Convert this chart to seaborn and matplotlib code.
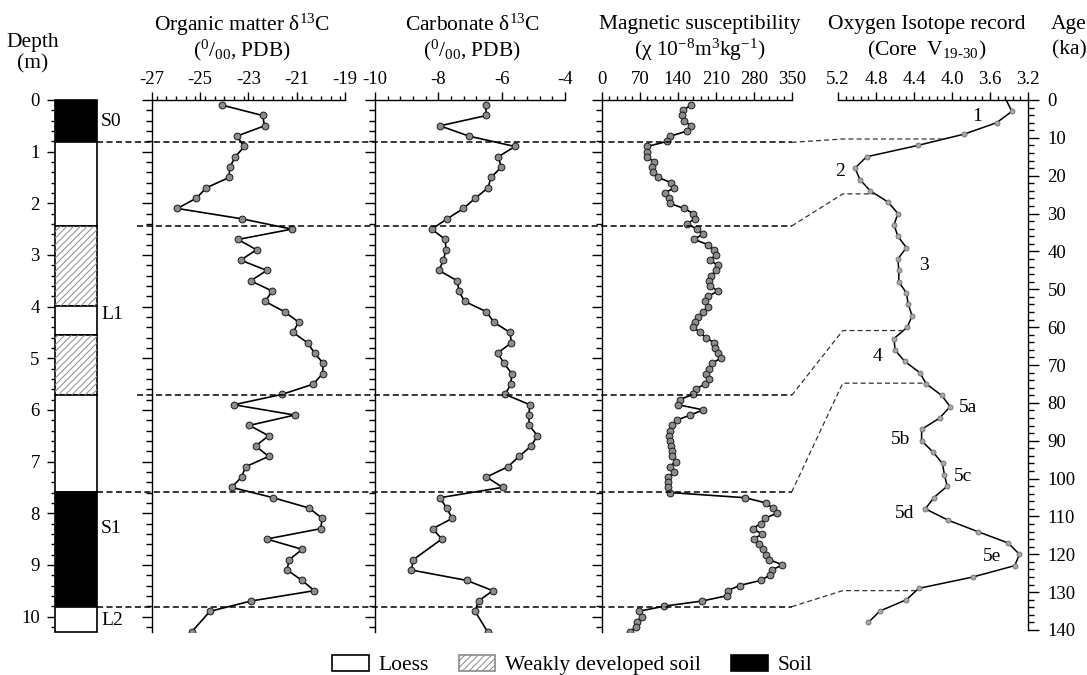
import numpy as np
import matplotlib
matplotlib.use("Agg")
import matplotlib.pyplot as plt
import seaborn as sns
from matplotlib.lines import Line2D
from matplotlib.patches import Patch
from matplotlib.ticker import MultipleLocator
from matplotlib.transforms import blended_transform_factory

# ---------------- data ----------------
om_depth = [0.1, 0.3, 0.5, 0.7, 0.9, 1.1, 1.3, 1.5, 1.7, 1.9, 2.1, 2.3, 2.5, 2.7, 2.9, 3.1, 3.3,
            3.5, 3.7, 3.9, 4.1, 4.3, 4.5, 4.7, 4.9, 5.1, 5.3, 5.5, 5.7, 5.9, 6.1, 6.3, 6.5, 6.7,
            6.9, 7.1, 7.3, 7.5, 7.7, 7.9, 8.1, 8.3, 8.5, 8.7, 8.9, 9.1, 9.3, 9.5, 9.7, 9.9, 10.3]
om_d13c = [-24.08, -22.41, -22.33, -23.48, -23.17, -23.54, -23.77, -23.80, -24.74, -25.15,
           -25.94, -23.28, -21.20, -23.43, -22.66, -23.32, -22.24, -22.90, -22.01, -22.31,
           -21.50, -20.92, -21.15, -20.55, -20.26, -19.90, -19.93, -20.31, -21.61, -23.60,
           -21.08, -22.96, -22.16, -22.70, -22.16, -23.11, -23.28, -23.69, -21.97, -20.49,
           -19.94, -20.01, -22.24, -20.77, -21.31, -21.40, -20.78, -20.27, -22.89, -24.59, -25.35]

carb_depth = [0.1, 0.3, 0.5, 0.7, 0.9, 1.1, 1.3, 1.5, 1.7, 1.9, 2.1, 2.3, 2.5, 2.7, 2.9, 3.1, 3.3,
              3.5, 3.7, 3.9, 4.1, 4.3, 4.5, 4.7, 4.9, 5.1, 5.3, 5.5, 5.7, 5.9, 6.1, 6.3, 6.5, 6.7,
              6.9, 7.1, 7.3, 7.5, 7.7, 7.9, 8.1, 8.3, 8.5, 8.9, 9.1, 9.3, 9.5, 9.7, 9.9, 10.3]
carb_d13c = [-6.51, -6.48, -7.95, -7.03, -5.58, -6.11, -6.01, -6.34, -6.43, -6.83, -7.21, -7.72,
             -8.21, -7.78, -7.76, -7.84, -7.98, -7.40, -7.35, -7.17, -6.48, -6.25, -5.74, -5.69,
             -6.13, -5.92, -5.68, -5.71, -5.89, -5.11, -5.14, -5.13, -4.87, -5.07, -5.45, -5.80,
             -6.48, -5.97, -7.95, -7.74, -7.56, -8.18, -7.89, -8.79, -8.85, -7.11, -6.28, -6.73,
             -6.84, -6.44]

ms_depth = [0.1, 0.2, 0.3, 0.4, 0.5, 0.6, 0.7, 0.8, 0.9, 1.0, 1.1, 1.2, 1.3, 1.4, 1.5, 1.6, 1.7,
            1.8, 1.9, 2.0, 2.1, 2.2, 2.3, 2.4, 2.5, 2.6, 2.7, 2.8, 2.9, 3.0, 3.1, 3.2, 3.3, 3.4,
            3.5, 3.6, 3.7, 3.8, 3.9, 4.0, 4.1, 4.2, 4.3, 4.4, 4.5, 4.6, 4.7, 4.8, 4.9, 5.0, 5.1,
            5.2, 5.3, 5.4, 5.5, 5.6, 5.7, 5.8, 5.9, 6.0, 6.1, 6.2, 6.3, 6.4, 6.5, 6.6, 6.7, 6.8,
            6.9, 7.0, 7.1, 7.2, 7.3, 7.4, 7.5, 7.6, 7.7, 7.8, 7.9, 8.0, 8.1, 8.2, 8.3, 8.4, 8.5,
            8.6, 8.7, 8.8, 8.9, 9.0, 9.1, 9.2, 9.3, 9.4, 9.5, 9.6, 9.7, 9.8, 9.9, 10.0, 10.1,
            10.2, 10.3]
ms_chi = [164, 150, 147, 152, 164, 158, 126, 121, 84, 83,
          83, 97, 92, 94, 104, 128, 133, 117, 124, 125,
          152, 169, 171, 157, 176, 186, 170, 196, 206, 210,
          199, 214, 211, 201, 198, 200, 214, 196, 190, 196,
          187, 178, 172, 169, 181, 192, 207, 209, 214, 219,
          203, 198, 192, 198, 190, 173, 168, 144, 141, 187,
          163, 138, 130, 126, 124, 126, 127, 129, 129, 136,
          125, 134, 123, 122, 123, 126, 264, 302, 315, 322,
          301, 293, 278, 295, 281, 289, 298, 303, 309, 333,
          313, 310, 293, 254, 232, 230, 185, 115, 68, 74,
          65, 63, 52]

o18_age = [0, 3, 6, 9, 12, 15, 18, 21, 24, 27, 30, 33, 36, 39, 42, 45, 48, 51, 54, 57, 60, 63,
           66, 69, 72, 75, 78, 81, 84, 87, 90, 93, 96, 99, 102, 105, 108, 111, 114, 117, 120,
           123, 126, 129, 132, 135, 138]
o18_val = [3.43, 3.37, 3.53, 3.87, 4.36, 4.90, 5.02, 4.97, 4.86, 4.67, 4.57, 4.61, 4.57, 4.48,
           4.57, 4.56, 4.56, 4.48, 4.46, 4.42, 4.47, 4.61, 4.60, 4.50, 4.34, 4.27, 4.11, 4.02,
           4.13, 4.32, 4.32, 4.20, 4.10, 4.08, 4.05, 4.19, 4.28, 4.04, 3.73, 3.41, 3.29, 3.34,
           3.78, 4.35, 4.48, 4.76, 4.88]

stage_labels = ['1', '2', '3', '4', '5a', '5b', '5c', '5d', '5e']
stage_val = [3.74, 5.18, 4.30, 4.78, 3.83, 4.54, 3.88, 4.50, 3.58]
stage_age = [4.4, 19.0, 43.6, 67.8, 81.2, 89.8, 99.5, 109.1, 120.7]

layer_top = [0.0, 0.82, 2.44, 3.98, 4.55, 5.72, 7.59, 9.81]
layer_bot = [0.82, 2.44, 3.98, 4.55, 5.72, 7.59, 9.81, 10.3]
layer_type = ['Soil', 'Loess', 'Weakly developed soil', 'Loess', 'Weakly developed soil',
              'Loess', 'Soil', 'Loess']
unit_names = ['S0', 'L1', 'S1', 'L2']
unit_depth = [0.42, 4.15, 8.3, 10.07]

bound_depth = [0.82, 2.44, 5.72, 7.59, 9.81]
bound_from_column = [True, False, False, True, True]
bound_age = [10.3, 24.8, 60.9, 74.8, 129.6]

legend_labels = ['Loess', 'Weakly developed soil', 'Soil']

om_ticks = [-27, -25, -23, -21, -19]
carb_ticks = [-10, -8, -6, -4]
ms_ticks = [0, 70, 140, 210, 280, 350]
o18_ticks = [5.2, 4.8, 4.4, 4.0, 3.6, 3.2]
depth_ticks = [0, 1, 2, 3, 4, 5, 6, 7, 8, 9, 10]
age_ticks = [0, 10, 20, 30, 40, 50, 60, 70, 80, 90, 100, 110, 120, 130, 140]

# ---------------- style ----------------
sns.set_style("ticks")
plt.rcParams.update({
    'font.family': ['Liberation Serif', 'DejaVu Serif'],
    'mathtext.fontset': 'custom',
    'mathtext.rm': 'Liberation Serif',
    'mathtext.it': 'Liberation Serif:italic',
    'mathtext.bf': 'Liberation Serif:bold',
    'axes.unicode_minus': False,
    'hatch.linewidth': 0.7,
    'axes.linewidth': 1.0,
    'axes.edgecolor': 'black',
    'xtick.color': 'black',
    'ytick.color': 'black',
    'text.color': 'black',
})

W, H = 1087, 675
fig = plt.figure(figsize=(W / 100, H / 100), dpi=100)


def box(x0, y0, x1, y1):
    return [x0 / W, 1 - y1 / H, (x1 - x0) / W, (y1 - y0) / H]


TOP, BOT, AGE_BOT = 100, 632, 630
ax_col = fig.add_axes(box(55, TOP, 97, BOT))
ax1 = fig.add_axes(box(151.7, TOP, 345, BOT))
ax2 = fig.add_axes(box(375, TOP, 565, BOT))
ax3 = fig.add_axes(box(601.7, TOP, 791.7, BOT))
ax4 = fig.add_axes(box(838, TOP, 1028, AGE_BOT))

TICK_FS = 13.5
TITLE_FS = 15.5
LINE_KW = dict(color='black', linewidth=1.2, estimator=None)
MK_KW = dict(s=24, color='#8c8c8c', edgecolor='#1a1a1a', linewidth=0.7, zorder=3)


def style_panel(ax, xlim, ticks, minor):
    ax.set_xlim(*xlim)
    ax.set_ylim(10.3, 0)
    for s in ['right', 'bottom']:
        ax.spines[s].set_visible(False)
    ax.xaxis.set_ticks_position('top')
    ax.set_xticks(ticks)
    ax.set_xticklabels([f'{t:g}' for t in ticks])
    ax.xaxis.set_minor_locator(MultipleLocator(minor))
    ax.yaxis.set_major_locator(MultipleLocator(1))
    ax.yaxis.set_minor_locator(MultipleLocator(0.2))
    ax.tick_params(axis='x', which='major', length=5.5, width=1, pad=3,
                   labelsize=TICK_FS, direction='out', top=True, bottom=False)
    ax.tick_params(axis='x', which='minor', length=3, width=1, direction='out',
                   top=True, bottom=False)
    ax.tick_params(axis='y', which='major', length=7, width=1, labelleft=False,
                   direction='out', left=True)
    ax.tick_params(axis='y', which='minor', length=4.5, width=1, direction='out', left=True)
    ax.set_xlabel('')
    ax.set_ylabel('')
    ax.patch.set_alpha(0)


# panel 1: organic matter
sns.lineplot(x=om_d13c, y=om_depth, orient='y', ax=ax1, **LINE_KW)
sns.scatterplot(x=om_d13c, y=om_depth, ax=ax1, **MK_KW)
style_panel(ax1, (-27, -19), om_ticks, 0.4)

# panel 2: carbonate
sns.lineplot(x=carb_d13c, y=carb_depth, orient='y', ax=ax2, **LINE_KW)
sns.scatterplot(x=carb_d13c, y=carb_depth, ax=ax2, **MK_KW)
style_panel(ax2, (-10, -4), carb_ticks, 0.4)

# panel 3: magnetic susceptibility
sns.lineplot(x=ms_chi, y=ms_depth, orient='y', ax=ax3, **LINE_KW)
sns.scatterplot(x=ms_chi, y=ms_depth, ax=ax3, **MK_KW)
style_panel(ax3, (0, 350), ms_ticks, 14)

# panel 4: oxygen isotope vs age
sns.lineplot(x=o18_val, y=o18_age, orient='y', ax=ax4, color='black', linewidth=1.1,
             estimator=None)
sns.scatterplot(x=o18_val[1:], y=o18_age[1:], ax=ax4, s=13, color='#a8a8a8',
                edgecolor='#6e6e6e', linewidth=0.6, zorder=3)
ax4.set_xlim(5.2, 3.2)
ax4.set_ylim(140, 0)
for s in ['left', 'bottom']:
    ax4.spines[s].set_visible(False)
ax4.xaxis.set_ticks_position('top')
ax4.set_xticks(o18_ticks)
ax4.set_xticklabels([f'{t:.1f}' for t in o18_ticks])
ax4.xaxis.set_minor_locator(MultipleLocator(0.08))
ax4.yaxis.tick_right()
ax4.set_yticks(age_ticks)
ax4.set_yticklabels([str(a) for a in age_ticks])
ax4.yaxis.set_minor_locator(MultipleLocator(2))
ax4.tick_params(axis='x', which='major', length=5.5, width=1, pad=3, labelsize=TICK_FS,
                direction='out', top=True, bottom=False)
ax4.tick_params(axis='x', which='minor', length=3, width=1, direction='out', top=True,
                bottom=False)
ax4.tick_params(axis='y', which='major', length=8, width=1, pad=6, labelsize=TICK_FS,
                direction='out', right=True, left=False, labelright=True, labelleft=False)
ax4.tick_params(axis='y', which='minor', length=4.5, width=1, direction='out', right=True,
                left=False)
ax4.set_xlabel('')
ax4.set_ylabel('')
ax4.patch.set_alpha(0)
for lab, v, a in zip(stage_labels, stage_val, stage_age):
    ax4.text(v, a, lab, ha='center', va='center', fontsize=14)

# stratigraphic column
fills = {'Soil': 'black', 'Loess': 'white', 'Weakly developed soil': 'white'}
for t0, t1, kind in zip(layer_top, layer_bot, layer_type):
    ax_col.bar(0.5, t1 - t0, bottom=t0, width=1, color=fills[kind], edgecolor='black',
               linewidth=1.2, clip_on=False, zorder=2)
    if kind == 'Weakly developed soil':
        ax_col.bar(0.5, t1 - t0, bottom=t0, width=1, color='none', edgecolor='#8a8a8a',
                   linewidth=0, hatch='/////', clip_on=False, zorder=2.5)
ax_col.set_xlim(0, 1)
ax_col.set_ylim(10.3, 0)
for s in ['top', 'right', 'bottom', 'left']:
    ax_col.spines[s].set_visible(False)
ax_col.set_xticks([])
ax_col.set_yticks(depth_ticks)
ax_col.set_yticklabels([str(d) for d in depth_ticks])
ax_col.yaxis.set_minor_locator(MultipleLocator(0.2))
ax_col.tick_params(axis='y', which='major', length=6, width=1, pad=5, labelsize=TICK_FS,
                   direction='out', left=True)
ax_col.tick_params(axis='y', which='minor', length=3, width=1, direction='out', left=True)
ax_col.patch.set_alpha(0)
col_tr = blended_transform_factory(ax_col.transAxes, ax_col.transData)
for name, d in zip(unit_names, unit_depth):
    ax_col.text(1.1, d, name, transform=col_tr, ha='left', va='center', fontsize=14)


# headers
def ftxt(x, y, s, **kw):
    fig.text(x / W, 1 - y / H, s, ha='center', va='center', fontsize=TITLE_FS, **kw)


ftxt(33, 43, 'Depth')
ftxt(33, 64, '(m)')
ftxt(242, 25, r'Organic matter δ$^{13}$C')
ftxt(242, 50, r'($^{0}$/$_{00}$, PDB)')
ftxt(472, 25, r'Carbonate δ$^{13}$C')
ftxt(472, 50, r'($^{0}$/$_{00}$, PDB)')
ftxt(700, 25, 'Magnetic susceptibility')
ftxt(700, 50, r'(χ 10$^{-8}$m$^{3}$kg$^{-1}$)')
ftxt(927, 25, 'Oxygen Isotope record')
ftxt(927, 50, r'(Core  V$_{\text{19-30}}$)')
ftxt(1069, 25, 'Age')
ftxt(1069, 50, '(ka)')

# boundary dashed lines and connectors
to_fig = fig.transFigure.inverted()
p1_tr = blended_transform_factory(ax1.transAxes, ax1.transData)
for d, from_col, age in zip(bound_depth, bound_from_column, bound_age):
    if from_col:
        p0 = to_fig.transform(col_tr.transform((1.0, d)))
    else:
        p0 = to_fig.transform(p1_tr.transform((-0.075, d)))
    p1 = to_fig.transform(ax3.transData.transform((350, d)))
    fig.add_artist(Line2D([p0[0], p1[0]], [p0[1], p1[1]], transform=fig.transFigure,
                          color='black', linewidth=1.1, linestyle=(0, (4, 2.2)), zorder=5))
    pk = to_fig.transform(ax4.transData.transform((5.15, age)))
    pe = to_fig.transform(ax4.transData.transform((np.interp(age, o18_age, o18_val), age)))
    fig.add_artist(Line2D([p1[0], pk[0], pe[0]], [p1[1], pk[1], pe[1]],
                          transform=fig.transFigure, color='#333333', linewidth=0.9,
                          linestyle=(0, (4, 2.5)), zorder=5))

# legend
handles = [Patch(facecolor='white', edgecolor='black', linewidth=1.2),
           Patch(facecolor='white', edgecolor='#8a8a8a', hatch='/////', linewidth=1.2),
           Patch(facecolor='black', edgecolor='black', linewidth=1.2)]
fig.legend(handles, legend_labels, loc='center', bbox_to_anchor=(572 / W, 1 - 665 / H),
           ncol=3, frameon=False, fontsize=TITLE_FS, handlelength=1.7, handleheight=0.75,
           handletextpad=0.45, columnspacing=1.4, borderpad=0, borderaxespad=0)

fig.savefig('out.png', dpi=100)
